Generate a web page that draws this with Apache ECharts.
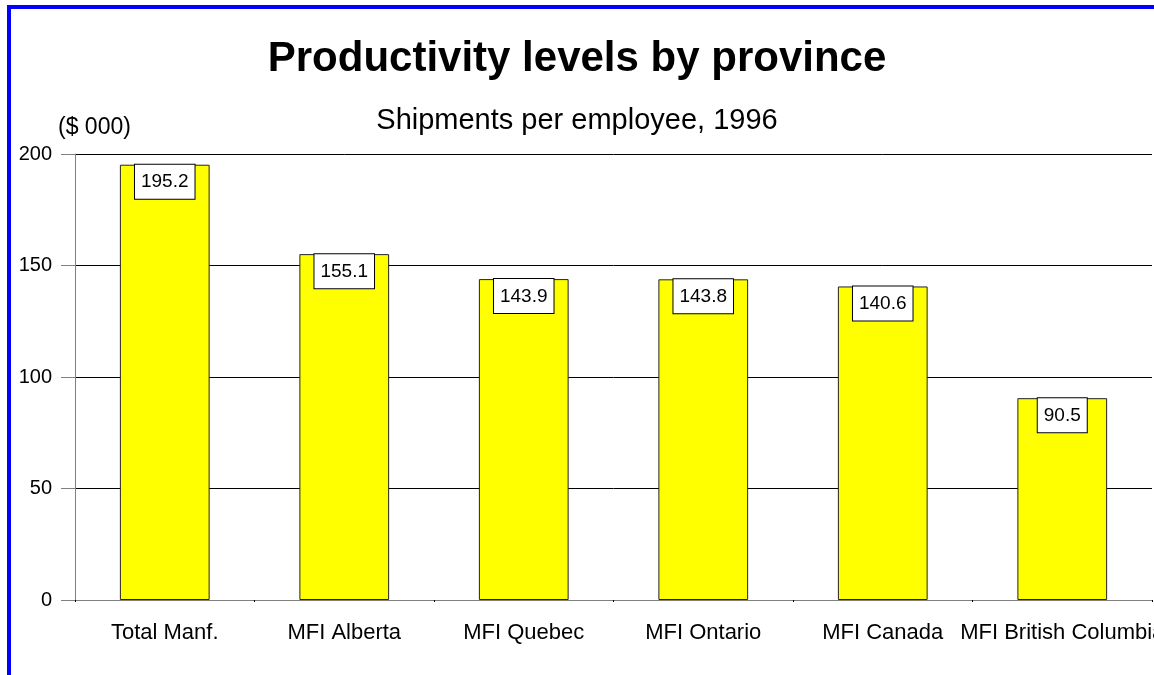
<!DOCTYPE html>
<html><head><meta charset="utf-8">
<script src="https://cdn.jsdelivr.net/npm/echarts@6/dist/echarts.min.js"></script>
<style>html,body{margin:0;padding:0;background:#fff}#c{width:1154px;height:675px}</style>
</head><body><div id="c"></div>
<script>
const categories = ['Total Manf.', 'MFI Alberta', 'MFI Quebec', 'MFI Ontario', 'MFI Canada', 'MFI British Columbia'];
const values = [195.2, 155.1, 143.9, 143.8, 140.6, 90.5];
const yTicks = [0, 50, 100, 150, 200];

const FONT = '"Liberation Sans", Arial, sans-serif';
const chart = echarts.init(document.getElementById('c'));
chart.setOption({
  animation: false,
  title: [
    { text: 'Productivity levels by province', left: 'center', top: 33,
      textStyle: { fontFamily: FONT, fontSize: 42, fontWeight: 'bold', color: '#000' } },
    { text: 'Shipments per employee, 1996', left: 'center', top: 101,
      textStyle: { fontFamily: FONT, fontSize: 29, fontWeight: 'normal', color: '#000' } }
  ],
  grid: { left: 75, right: 2, top: 154, bottom: 75, containLabel: false, outerBoundsMode: 'none' },
  xAxis: [{
    type: 'category', data: categories,
    axisLine: { lineStyle: { color: '#808080', width: 1 } },
    axisTick: { alignWithLabel: true, length: 13, lineStyle: { color: '#808080' } },
    axisLabel: { fontFamily: FONT, fontSize: 22, color: '#000', margin: 22, interval: 0, hideOverlap: false }
  }, {
    type: 'category', data: categories, position: 'bottom',
    axisLine: { show: false },
    axisTick: { show: true, alignWithLabel: false, length: 2, lineStyle: { color: '#000' } },
    axisLabel: { show: false }
  }],
  yAxis: {
    type: 'value', min: yTicks[0], max: yTicks[yTicks.length - 1], interval: 50,
    axisLine: { show: true, lineStyle: { color: '#808080', width: 1 } },
    axisTick: { show: true, length: 14, lineStyle: { color: '#808080' } },
    axisLabel: { fontFamily: FONT, fontSize: 20, color: '#000', margin: 23 },
    splitLine: { show: true, lineStyle: { color: '#000', width: 1 } }
  },
  series: [{
    type: 'bar', data: values, barWidth: '50%',
    itemStyle: { color: '#ffff00', borderColor: '#222', borderWidth: 1 },
    label: {
      show: true, position: 'insideTop', distance: 0,
      fontFamily: FONT, fontSize: 19, color: '#000',
      backgroundColor: '#fff', borderColor: '#000', borderWidth: 1,
      padding: [8, 6, 7, 6], formatter: p => p.value.toFixed(1)
    }
  }],
  graphic: [
    { type: 'rect', shape: { x: 7, y: 5, width: 1147, height: 4 }, style: { fill: '#0000ff' } },
    { type: 'rect', shape: { x: 7, y: 5, width: 4, height: 670 }, style: { fill: '#0000ff' } },
    { type: 'text', left: 58, top: 116, style: { text: '($ 000)', font: '23px ' + FONT, fill: '#000' } }
  ]
});
</script></body></html>
